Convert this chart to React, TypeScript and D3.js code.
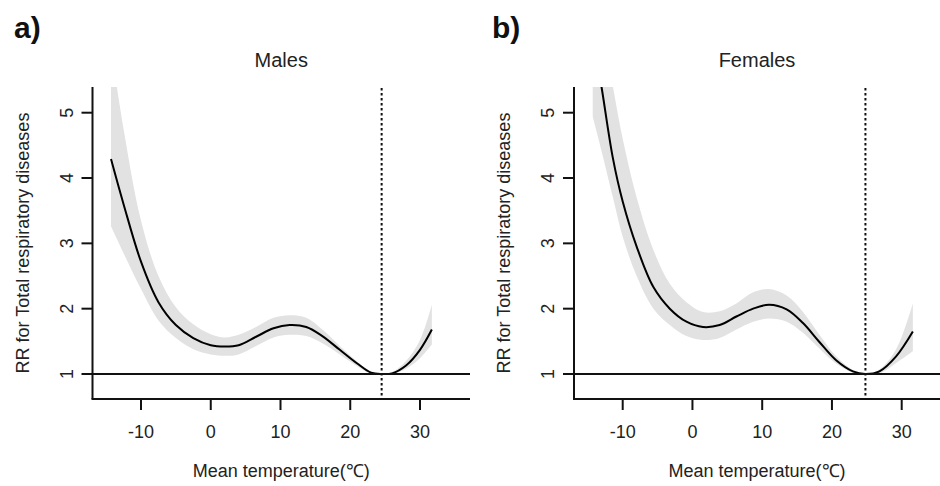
import React from "react";
import * as d3 from "d3";

const maleTemp = [-14.3, -12.5, -10, -7.5, -5, -2.5, 0, 2, 4, 6.5, 9, 11.3, 13.7, 16, 18.5, 21, 23, 24.5, 26, 28, 30, 31.7];
const maleRR = [4.29, 3.6, 2.72, 2.1, 1.75, 1.55, 1.44, 1.42, 1.44, 1.57, 1.7, 1.75, 1.72, 1.58, 1.37, 1.16, 1.02, 1.0, 1.01, 1.13, 1.37, 1.68];
const maleHigh = [6.0, 4.75, 3.35, 2.5, 2.02, 1.76, 1.61, 1.56, 1.6, 1.72, 1.86, 1.9, 1.86, 1.68, 1.43, 1.19, 1.03, 1.0, 1.03, 1.2, 1.52, 2.06];
const maleLow = [3.26, 2.85, 2.3, 1.82, 1.55, 1.38, 1.3, 1.28, 1.3, 1.43, 1.56, 1.6, 1.58, 1.47, 1.3, 1.12, 1.0, 1.0, 1.0, 1.08, 1.24, 1.45];
const maleRef = 24.5;

const femaleTemp = [-14.3, -13, -11.4, -10, -8, -5.6, -3.25, -0.86, 1.5, 3.9, 6.3, 8.7, 11, 13.5, 15.85, 18.2, 20.6, 23, 24.8, 26.8, 29.2, 31.6];
const femaleRR = [6.2, 5.37, 4.3, 3.64, 2.95, 2.33, 2.0, 1.8, 1.72, 1.75, 1.88, 2.0, 2.06, 1.99, 1.78, 1.49, 1.21, 1.04, 1.0, 1.04, 1.27, 1.65];
const femaleHigh = [7.5, 6.4, 5.4, 4.6, 3.7, 2.9, 2.38, 2.1, 1.95, 1.96, 2.08, 2.25, 2.3, 2.2, 1.95, 1.6, 1.27, 1.06, 1.0, 1.07, 1.38, 2.08];
const femaleLow = [4.94, 4.4, 3.7, 3.1, 2.5, 2.0, 1.75, 1.58, 1.52, 1.55, 1.68, 1.8, 1.85, 1.8, 1.63, 1.39, 1.16, 1.02, 1.0, 1.01, 1.17, 1.35];
const femaleRef = 24.8;

const xTicks = [-10, 0, 10, 20, 30];
const yTicks = [1, 2, 3, 4, 5];
const panelTags = ["a)", "b)"];
const panelTitles = ["Males", "Females"];
const xLabel = "Mean temperature(\u2103)";
const yLabel = "RR for Total respiratory diseases";

const FONT = "'Liberation Sans', Arial, sans-serif";

type PanelProps = {
  idx: number;
  temp: number[];
  rr: number[];
  low: number[];
  high: number[];
  ref: number;
  axisX: number;
  rightX: number;
  x10: number;
  x30: number;
  tagX: number;
};

function Panel(p: PanelProps) {
  const top = 87;
  const bottom = 399;
  const x = d3.scaleLinear().domain([-10, 30]).range([p.x10, p.x30]);
  const y = d3.scaleLinear().domain([1, 5]).range([374, 112.7]);
  const pts = p.temp.map((t, i) => ({ t, r: p.rr[i], lo: p.low[i], hi: p.high[i] }));
  const line = d3
    .line<any>()
    .x((d) => x(d.t))
    .y((d) => y(d.r))
    .curve(d3.curveCatmullRom.alpha(0.5));
  const area = d3
    .area<any>()
    .x((d) => x(d.t))
    .y0((d) => y(d.lo))
    .y1((d) => y(d.hi))
    .curve(d3.curveCatmullRom.alpha(0.5));
  const clipId = `clip${p.idx}`;
  const centerX = (p.axisX + p.rightX) / 2;
  return (
    <g>
      <defs>
        <clipPath id={clipId}>
          <rect x={p.axisX} y={top} width={p.rightX - p.axisX} height={bottom - top} />
        </clipPath>
      </defs>
      <text x={p.tagX} y={38} fontFamily={FONT} fontWeight="bold" fontSize={30} fill="#111">
        {panelTags[p.idx]}
      </text>
      <text x={centerX} y={67} fontFamily={FONT} fontSize={20} fill="#222" textAnchor="middle">
        {panelTitles[p.idx]}
      </text>
      <g clipPath={`url(#${clipId})`}>
        <path d={area(pts) || ""} fill="#e2e2e2" stroke="none" />
        <path d={line(pts) || ""} fill="none" stroke="#000" strokeWidth={2} />
      </g>
      <line x1={p.axisX} x2={p.rightX} y1={y(1)} y2={y(1)} stroke="#111" strokeWidth={2} />
      <line x1={x(p.ref)} x2={x(p.ref)} y1={top + 1} y2={bottom} stroke="#111" strokeWidth={2} strokeDasharray="2.5,2.5" />
      <line x1={p.axisX} x2={p.axisX} y1={top} y2={bottom} stroke="#111" strokeWidth={2} />
      <line x1={p.axisX - 1} x2={p.rightX} y1={bottom} y2={bottom} stroke="#111" strokeWidth={2} />
      {yTicks.map((v) => (
        <g key={`y${v}`}>
          <line x1={p.axisX - 11} x2={p.axisX} y1={y(v)} y2={y(v)} stroke="#111" strokeWidth={2} />
          <text
            transform={`translate(${p.axisX - 26},${y(v)}) rotate(-90)`}
            textAnchor="middle"
            dy="0.35em"
            fontFamily={FONT}
            fontSize={18}
            fill="#222"
          >
            {v}
          </text>
        </g>
      ))}
      {xTicks.map((v) => (
        <g key={`x${v}`}>
          <line x1={x(v)} x2={x(v)} y1={bottom} y2={bottom + 11} stroke="#111" strokeWidth={2} />
          <text x={x(v)} y={438} textAnchor="middle" fontFamily={FONT} fontSize={18} fill="#222">
            {v}
          </text>
        </g>
      ))}
      <text x={centerX} y={477} textAnchor="middle" fontFamily={FONT} fontSize={18} fill="#222">
        {xLabel}
      </text>
      <text
        transform={`translate(${p.axisX - 70},243) rotate(-90)`}
        textAnchor="middle"
        dy="0.35em"
        fontFamily={FONT}
        fontSize={18}
        fill="#222"
      >
        {yLabel}
      </text>
    </g>
  );
}

export default function App() {
  return (
    <svg
      width={940}
      height={486}
      viewBox="0 0 940 486"
      style={{ position: "absolute", left: 0, top: 0, background: "#fff" }}
    >
      <rect x={0} y={0} width={940} height={486} fill="#fff" />
      <Panel
        idx={0}
        temp={maleTemp}
        rr={maleRR}
        low={maleLow}
        high={maleHigh}
        ref={maleRef}
        axisX={92.5}
        rightX={470}
        x10={141}
        x30={420}
        tagX={14}
      />
      <Panel
        idx={1}
        temp={femaleTemp}
        rr={femaleRR}
        low={femaleLow}
        high={femaleHigh}
        ref={femaleRef}
        axisX={574}
        rightX={940}
        x10={622.7}
        x30={901.7}
        tagX={492}
      />
    </svg>
  );
}
